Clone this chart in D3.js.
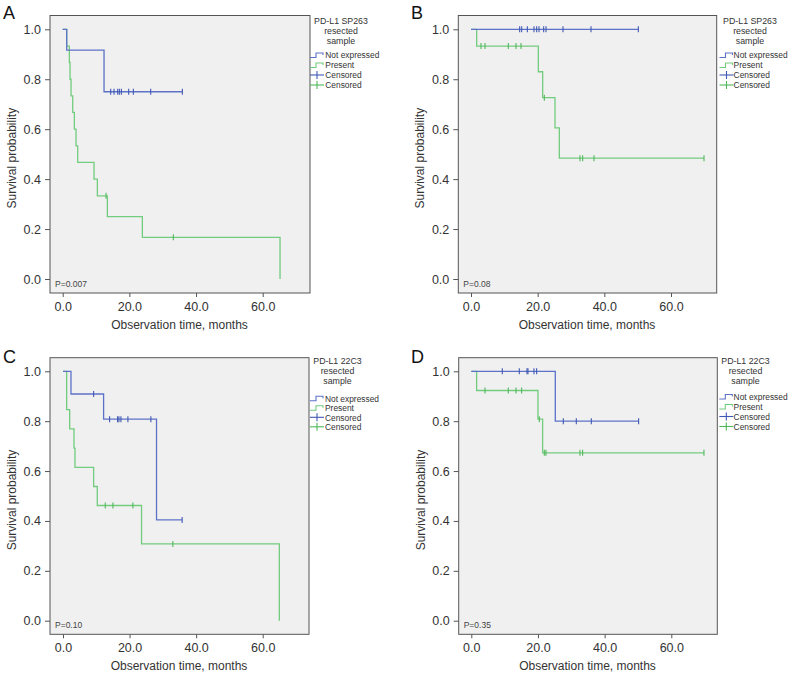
<!DOCTYPE html>
<html><head><meta charset="utf-8">
<script src="https://cdn.jsdelivr.net/npm/d3@7"></script>
<style>body{margin:0;background:#fff}svg{display:block;font-family:"Liberation Sans",Arial,Helvetica,sans-serif}</style>
</head><body><svg id="c" width="790" height="676"></svg>
<script>
// ---------- DATA ----------
const xTicks = [0, 20, 40, 60];
const yTicks = [0, 0.2, 0.4, 0.6, 0.8, 1.0];
const seriesNames = ["Not expressed", "Present", "Censored", "Censored"];
const panelLetters = ["A", "B", "C", "D"];
const legendTitles = [["PD-L1 SP263","resected","sample"],["PD-L1 SP263","resected","sample"],["PD-L1 22C3","resected","sample"],["PD-L1 22C3","resected","sample"]];
const pValues = ["P=0.007", "P=0.08", "P=0.10", "P=0.35"];

// Panel A
const A_ne_time = [0, 1.2, 12.4, 35.9];
const A_ne_surv = [1, 0.917, 0.75, 0.75];
const A_ne_cens = [14.4, 15.4, 16.5, 17.0, 17.6, 19.8, 21.2, 26.4, 35.9];
const A_pr_time = [0, 1.2, 2.0, 2.2, 2.5, 3.0, 3.5, 4.0, 4.5, 9.4, 10.4, 13.4, 23.9, 65.2];
const A_pr_surv = [1, 0.933, 0.867, 0.8, 0.733, 0.667, 0.6, 0.533, 0.467, 0.4, 0.333, 0.25, 0.167, 0];
const A_pr_cens = [13.0, 33.2];
// Panel B
const B_ne_time = [0, 50.2];
const B_ne_surv = [1, 1];
const B_ne_cens = [14.6, 15.2, 16.9, 18.9, 19.7, 20.4, 21.8, 22.5, 27.6, 36.0, 50.2];
const B_pr_time = [0, 1.7, 20.2, 21.5, 25.2, 26.5, 69.9];
const B_pr_surv = [1, 0.933, 0.83, 0.726, 0.605, 0.484, 0.484];
const B_pr_cens = [3.0, 4.2, 11.2, 13.5, 15.0, 22.0, 32.7, 33.5, 36.9, 69.9];
// Panel C
const C_ne_time = [0, 2.4, 12.2, 28.1, 35.8];
const C_ne_surv = [1, 0.909, 0.808, 0.404, 0.404];
const C_ne_cens = [9.2, 14.0, 16.4, 16.8, 17.4, 19.5, 26.4, 35.8];
const C_pr_time = [0, 1.1, 2.0, 3.3, 3.6, 9.2, 10.3, 23.6, 65.0];
const C_pr_surv = [1, 0.846, 0.769, 0.692, 0.615, 0.538, 0.462, 0.308, 0];
const C_pr_cens = [12.7, 15.0, 21.0, 33.0];
// Panel D
const D_ne_time = [0, 25.2, 50.2];
const D_ne_surv = [1, 0.8, 0.8];
const D_ne_cens = [9.3, 14.4, 16.7, 17.0, 18.8, 19.6, 27.6, 31.5, 36.0, 50.2];
const D_pr_time = [0, 1.6, 20.0, 21.4, 69.8];
const D_pr_surv = [1, 0.923, 0.808, 0.673, 0.673];
const D_pr_cens = [4.1, 11.1, 13.4, 15.1, 20.4, 21.9, 22.4, 32.6, 33.4, 69.8];

// ---------- LAYOUT / STYLE ----------
const colNE = "#5c72c8", colPR = "#72cc7e", colNEc = "#4058b4", colPRc = "#4fb85c";
const panels = [
  {letter:[3,19], box:[50,15.5,310,293], x:[62.7,262.7], y:[29.3,279], leg:[310,341,325.3], legY:[20.7,55,10], ne:[A_ne_time,A_ne_surv,A_ne_cens], pr:[A_pr_time,A_pr_surv,A_pr_cens]},
  {letter:[411,19], box:[458.3,15.5,716.7,293], x:[471,671], y:[29.3,279], leg:[719.5,750,733.6], legY:[20.7,55,10], ne:[B_ne_time,B_ne_surv,B_ne_cens], pr:[B_pr_time,B_pr_surv,B_pr_cens]},
  {letter:[3,363], box:[50,357.7,309,634.3], x:[63,262.7], y:[371.3,620.7], leg:[310,337.5,325], legY:[360.7,398.3,9.5], ne:[C_ne_time,C_ne_surv,C_ne_cens], pr:[C_pr_time,C_pr_surv,C_pr_cens]},
  {letter:[411,363], box:[458.7,357.7,717.3,634.3], x:[471.3,671.3], y:[371.3,620.7], leg:[719.3,745.5,733.6], legY:[360.7,396.5,10], ne:[D_ne_time,D_ne_surv,D_ne_cens], pr:[D_pr_time,D_pr_surv,D_pr_cens]}
];

const svg = d3.select("#c");

function survAt(times, surv, t){
  let s = surv[0];
  for (let i=0;i<times.length;i++){ if (times[i] <= t) s = surv[i]; }
  return s;
}

panels.forEach((p,i)=>{
  const g = svg.append("g");
  const [bx0,by0,bx1,by1] = p.box;
  const xs = d3.scaleLinear().domain([0,60]).range(p.x);
  const ys = d3.scaleLinear().domain([0,1]).range([p.y[1], p.y[0]]);

  g.append("text").attr("x",p.letter[0]).attr("y",p.letter[1]).attr("font-size",18).attr("fill","#111").text(panelLetters[i]);

  g.append("rect").attr("x",bx0).attr("y",by0).attr("width",bx1-bx0).attr("height",by1-by0)
    .attr("fill","#f0f0f0").attr("stroke","#555").attr("stroke-width",1);

  const ya = g.append("g").attr("transform",`translate(${bx0},0)`)
    .call(d3.axisLeft(ys).tickValues(yTicks).tickFormat(d3.format(".1f")).tickSize(5).tickPadding(4));
  ya.select(".domain").remove();
  ya.selectAll("line").attr("stroke","#555");
  ya.selectAll("text").attr("font-size",12.5).attr("fill","#333").attr("font-family","Liberation Sans, Arial, sans-serif");

  const xa = g.append("g").attr("transform",`translate(0,${by1})`)
    .call(d3.axisBottom(xs).tickValues(xTicks).tickFormat(d3.format(".1f")).tickSize(4).tickPadding(5));
  xa.select(".domain").remove();
  xa.selectAll("line").attr("stroke","#555");
  xa.selectAll("text").attr("font-size",12.5).attr("fill","#333").attr("font-family","Liberation Sans, Arial, sans-serif");

  g.append("text").attr("x",(bx0+bx1)/2 - 0.5).attr("y",by1+36).attr("text-anchor","middle")
    .attr("font-size",12).attr("fill","#333").text("Observation time, months");
  g.append("text").attr("transform",`translate(${bx0-34},${(ys(1)+ys(0))/2+4}) rotate(-90)`)
    .attr("text-anchor","middle").attr("font-size",12).attr("fill","#333").text("Survival probability");

  g.append("text").attr("x",bx0+5).attr("y",ys(0)+7.5).attr("font-size",8.5).attr("fill","#444").text(pValues[i]);

  const line = d3.line().x(d=>xs(d[0])).y(d=>ys(d[1])).curve(d3.curveStepAfter);
  [[p.pr,colPR,colPRc],[p.ne,colNE,colNEc]].forEach(([ser,col,ccol])=>{
    const pts = ser[0].map((t,k)=>[t,ser[1][k]]);
    g.append("path").attr("d",line(pts)).attr("fill","none").attr("stroke",col).attr("stroke-width",1.3);
    g.selectAll(null).data(ser[2]).enter().append("line")
      .attr("x1",d=>xs(d)).attr("x2",d=>xs(d))
      .attr("y1",d=>ys(survAt(ser[0],ser[1],d))-3).attr("y2",d=>ys(survAt(ser[0],ser[1],d))+3)
      .attr("stroke",ccol).attr("stroke-width",1.1);
  });

  const [lsx, ltx, litx] = p.leg;
  const [lty, liy, lsp] = p.legY;
  legendTitles[i].forEach((t,k)=>{
    g.append("text").attr("x",ltx).attr("y",lty+k*10+3).attr("text-anchor","middle")
      .attr("font-size",8.8).attr("fill","#333").text(t);
  });
  seriesNames.forEach((nm,k)=>{
    const yy = liy + k*lsp;
    const col = [colNE,colPR,colNEc,colPRc][k];
    if (k<2){
      g.append("path").attr("d",`M${lsx},${yy+2.5}H${lsx+6}V${yy-2}H${lsx+13}V${yy}`)
        .attr("fill","none").attr("stroke",col).attr("stroke-width",1.1);
    } else {
      g.append("line").attr("x1",lsx).attr("x2",lsx+14).attr("y1",yy).attr("y2",yy).attr("stroke",col).attr("stroke-width",1.1);
      g.append("line").attr("x1",lsx+7).attr("x2",lsx+7).attr("y1",yy-4).attr("y2",yy+4).attr("stroke",col).attr("stroke-width",1.1);
    }
    g.append("text").attr("x",litx).attr("y",yy+3.2).attr("font-size",8.4).attr("fill","#333").text(nm);
  });
});
</script></body></html>
